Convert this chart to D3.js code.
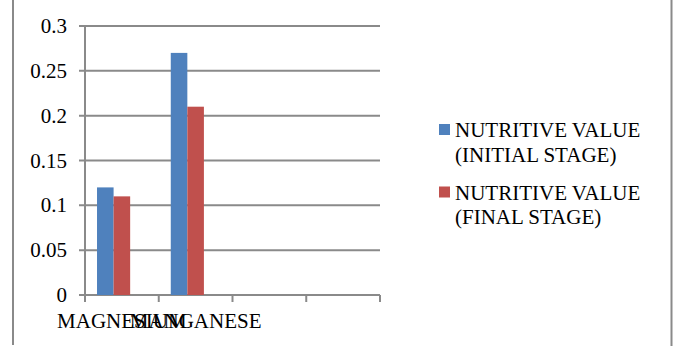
<!DOCTYPE html>
<html>
<head>
<meta charset="utf-8">
<script src="https://cdn.jsdelivr.net/npm/d3@7"></script>
<style>
  html, body { margin: 0; padding: 0; background: #fff; }
  svg { display: block; }
</style>
</head>
<body>
<div id="chart"></div>
<script>
const categories = ["MAGNESIUM", "MANGANESE", "", ""];
const initialStage = [0.12, 0.27, null, null];
const finalStage = [0.11, 0.21, null, null];
const yTicks = [0, 0.05, 0.1, 0.15, 0.2, 0.25, 0.3];
const seriesNames = [
  ["NUTRITIVE VALUE", "(INITIAL STAGE)"],
  ["NUTRITIVE VALUE", "(FINAL STAGE)"],
];
const seriesColors = ["#4f81bd", "#c0504d"];

const width = 676, height = 347;
const margin = { left: 85, right: 296, top: 26, bottom: 52 };
const gridColor = "#8a8a8a";
const serif = "'Times New Roman', serif";

const svg = d3.select("#chart").append("svg").attr("width", width).attr("height", height).style("font-family", serif);

// frame lines on the sides
svg.append("line").attr("x1", 13).attr("x2", 13).attr("y1", 0).attr("y2", 345).attr("stroke", gridColor).attr("stroke-width", 2);
svg.append("line").attr("x1", 671.5).attr("x2", 671.5).attr("y1", 0).attr("y2", 346).attr("stroke", gridColor).attr("stroke-width", 2);

const x0 = d3.scaleBand().domain(d3.range(categories.length)).range([margin.left, width - margin.right]).padding(0);
const bw = x0.bandwidth();
// excel leaves room for three series per group; only two are drawn
const x1 = d3.scaleBand().domain([0, 1, 2]).range([bw * 0.163, bw * 0.837]).padding(0);
const y = d3.scaleLinear().domain([0, 0.3]).range([height - margin.bottom, margin.top]);

// gridlines + y ticks
svg.append("g")
  .selectAll("line")
  .data(yTicks)
  .enter()
  .append("line")
  .attr("x1", margin.left - 6)
  .attr("x2", width - margin.right)
  .attr("y1", (d) => y(d))
  .attr("y2", (d) => y(d))
  .attr("stroke", gridColor)
  .attr("stroke-width", 2);

svg.append("g")
  .selectAll("text")
  .data(yTicks)
  .enter()
  .append("text")
  .attr("x", 67)
  .attr("y", (d) => y(d))
  .attr("dy", "0.34em")
  .attr("text-anchor", "end")
  .style("font-size", "21px")
  .attr("fill", "#000")
  .text((d) => d);

// y axis line
svg.append("line").attr("x1", margin.left).attr("x2", margin.left).attr("y1", y(0.3)).attr("y2", y(0)).attr("stroke", gridColor).attr("stroke-width", 2);

// x ticks at band edges
const edges = d3.range(categories.length + 1).map((i) => margin.left + i * bw);
svg.append("g")
  .selectAll("line")
  .data(edges)
  .enter()
  .append("line")
  .attr("x1", (d) => d)
  .attr("x2", (d) => d)
  .attr("y1", y(0))
  .attr("y2", y(0) + 7)
  .attr("stroke", gridColor)
  .attr("stroke-width", 2);

// bars
[initialStage, finalStage].forEach((values, s) => {
  svg.append("g")
    .selectAll("rect")
    .data(values.map((v, i) => ({ v, i })).filter((d) => d.v != null))
    .enter()
    .append("rect")
    .attr("x", (d) => x0(d.i) + x1(s))
    .attr("width", x1.bandwidth())
    .attr("y", (d) => y(d.v))
    .attr("height", (d) => y(0) - y(d.v))
    .attr("fill", seriesColors[s]);
});

// category labels (they overlap, as in the original)
svg.append("g")
  .selectAll("text")
  .data(categories)
  .enter()
  .append("text")
  .attr("x", (d, i) => x0(i) + bw / 2)
  .attr("y", 328)
  .attr("text-anchor", "middle")
  .style("font-size", "21px")
  .attr("fill", "#000")
  .text((d) => d);

// legend
const legend = svg.append("g");
seriesNames.forEach((lines, s) => {
  const top = 124 + s * 62.5;
  legend.append("rect").attr("x", 439).attr("y", top).attr("width", 11).attr("height", 11).attr("fill", seriesColors[s]);
  lines.forEach((t, k) => {
    legend.append("text")
      .attr("x", 455)
      .attr("y", top + 13 + k * 24.5)
      .style("font-size", "21px")
      .attr("fill", "#000")
      .text(t);
  });
});
</script>
</body>
</html>
